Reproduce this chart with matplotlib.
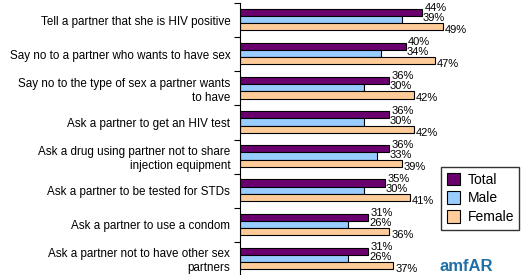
import numpy as np
import matplotlib
matplotlib.use("Agg")
import matplotlib.pyplot as plt
from matplotlib.patches import Patch

plt.rcParams["font.family"] = ["Liberation Sans", "DejaVu Sans"]

categories = [
    "Tell a partner that she is HIV positive",
    "Say no to a partner who wants to have sex",
    "Say no to the type of sex a partner wants\nto have",
    "Ask a partner to get an HIV test",
    "Ask a drug using partner not to share\ninjection equipment",
    "Ask a partner to be tested for STDs",
    "Ask a partner to use a condom",
    "Ask a partner not to have other sex\npartners",
]
total = [44, 40, 36, 36, 36, 35, 31, 31]
male = [39, 34, 30, 30, 33, 30, 26, 26]
female = [49, 47, 42, 42, 39, 41, 36, 37]
series_names = ["Total", "Male", "Female"]
colors = ["#6a006e", "#99ccff", "#ffcc99"]


def main():
    fig = plt.figure(figsize=(5.31, 2.75), dpi=100)
    ax = fig.add_axes([240 / 531, -1 / 275, 290 / 531, 273 / 275])

    y = np.arange(len(categories))
    h = 0.21
    offsets = [-0.225, -0.015, 0.195]
    for vals, off, col in zip([total, male, female], offsets, colors):
        ax.barh(y + off, vals, height=h, color=col, edgecolor="black", linewidth=0.8)

    # data labels (Excel-style placement)
    for i in range(len(categories)):
        ax.annotate(f"{total[i]}%", (total[i], y[i] + offsets[0]), xytext=(1.5, 3),
                    textcoords="offset points", va="center", ha="left", fontsize=8)
        ax.annotate(f"{male[i]}%", (total[i], y[i] + offsets[1]), xytext=(0.5, 1),
                    textcoords="offset points", va="center", ha="left", fontsize=8)
        ax.annotate(f"{female[i]}%", (female[i], y[i] + offsets[2]), xytext=(1.5, -2.5),
                    textcoords="offset points", va="center", ha="left", fontsize=8)

    ax.set_xlim(0, 70)
    ax.set_ylim(len(categories) - 0.5, -0.5)
    ax.set_yticks(y)
    ax.set_yticklabels(categories, fontsize=8.4)
    ax.set_yticks(np.arange(len(categories) + 1) - 0.5, minor=True)
    ax.tick_params(axis="y", which="major", length=0, pad=7)
    ax.tick_params(axis="y", which="minor", length=4, width=0.8, direction="out")
    ax.set_xticks([])
    for s in ["top", "right", "bottom"]:
        ax.spines[s].set_visible(False)
    ax.spines["left"].set_linewidth(0.8)

    handles = [Patch(facecolor=c, edgecolor="black", linewidth=0.8) for c in colors]
    fig.legend(handles, series_names, loc="upper left", bbox_to_anchor=(441 / 531, 1 - 167 / 275),
               fontsize=10, frameon=True, fancybox=False, edgecolor="black",
               handlelength=1.0, handleheight=1.0, handletextpad=0.5, labelspacing=0.35,
               borderpad=0.4, borderaxespad=0)

    fig.text(440 / 531, 1 / 275, "amfAR", fontsize=12, fontweight="bold",
             color="#1f6fa8", ha="left", va="bottom")

    fig.savefig("out.png", dpi=100)


if __name__ == "__main__":
    main()
